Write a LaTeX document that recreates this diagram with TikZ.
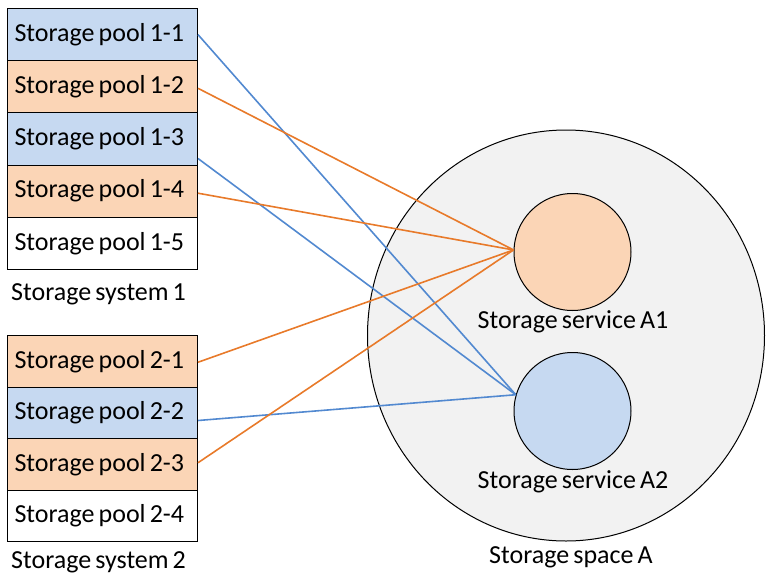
\documentclass[tikz,border=0pt]{standalone}
\usepackage{fontspec}
\setmainfont{Carlito}[WordSpace=0.7]
\usetikzlibrary{shapes.geometric}
\definecolor{poolblue}{RGB}{198,217,241}
\definecolor{poolorange}{RGB}{251,213,182}
\definecolor{spacegray}{RGB}{242,242,242}
\definecolor{lineblue}{RGB}{82,137,208}
\definecolor{lineorange}{RGB}{232,122,42}
\newcommand{\pooltext}[1]{\makebox[176pt][l]{#1}}
\tikzset{
  pool/.style={draw=black, line width=1pt, rectangle, anchor=north west,
    minimum width=190pt, inner xsep=7pt, inner ysep=0pt,
    font=\fontsize{26}{30}\selectfont},
  bluepool/.style={pool, fill=poolblue},
  orangepool/.style={pool, fill=poolorange},
  whitepool/.style={pool, fill=white},
  lbl/.style={font=\fontsize{26}{30}\selectfont, inner sep=0pt},
  svc/.style={draw=black, line width=1pt, circle, minimum size=117pt, inner sep=0pt},
  blink/.style={draw=lineblue, line width=1.6pt},
  olink/.style={draw=lineorange, line width=1.6pt}
}
\begin{document}
\begin{tikzpicture}[x=1pt,y=-1pt]
\useasboundingbox (0,0) rectangle (769,576);
% storage system 1
\node[bluepool, minimum height=52.2pt] (p11) at (7,8) {\pooltext{Storage pool 1-1}};
\node[orangepool, minimum height=52.2pt] (p12) at (7,60.2) {\pooltext{Storage pool 1-2}};
\node[bluepool, minimum height=52.2pt] (p13) at (7,112.4) {\pooltext{Storage pool 1-3}};
\node[orangepool, minimum height=52.2pt] (p14) at (7,164.6) {\pooltext{Storage pool 1-4}};
\node[whitepool, minimum height=52.2pt] (p15) at (7,216.8) {\pooltext{Storage pool 1-5}};
\node[lbl, anchor=west] (sys1) at (11,294) {Storage system 1};
% storage system 2
\node[orangepool, minimum height=51.5pt] (p21) at (7,335) {\pooltext{Storage pool 2-1}};
\node[bluepool, minimum height=51.5pt] (p22) at (7,386.5) {\pooltext{Storage pool 2-2}};
\node[orangepool, minimum height=51.5pt] (p23) at (7,438) {\pooltext{Storage pool 2-3}};
\node[whitepool, minimum height=51.5pt] (p24) at (7,489.5) {\pooltext{Storage pool 2-4}};
\node[lbl, anchor=west] (sys2) at (11,562) {Storage system 2};
% storage space
\node[draw=black, line width=1pt, fill=spacegray, ellipse, minimum width=397pt,
  minimum height=411pt, inner sep=0pt] (space) at (566,335.5) {};
\node[lbl] (spacelbl) at (571,557) {Storage space A};
% services
\node[svc, fill=poolorange] (A1) at (572.5,252) {};
\node[svc, fill=poolblue] (A2) at (572.5,411) {};
\node[lbl] (A1lbl) at (573,322) {Storage service A1};
\node[lbl] (A2lbl) at (573,482) {Storage service A2};
% links
\draw[blink] (p11.east) -- (A2.164);
\draw[olink] ([yshift=-1.5pt]p12.east) -- (A1.178);
\draw[blink] ([yshift=-19.5pt]p13.east) -- (A2.164);
\draw[olink] ([yshift=-2pt]p14.east) -- (A1.178);
\draw[olink] ([yshift=-1pt]p21.east) -- (A1.178);
\draw[blink] ([yshift=-7.75pt]p22.east) -- (A2.164);
\draw[olink] ([yshift=1.5pt]p23.east) -- (A1.178);
\end{tikzpicture}
\end{document}
